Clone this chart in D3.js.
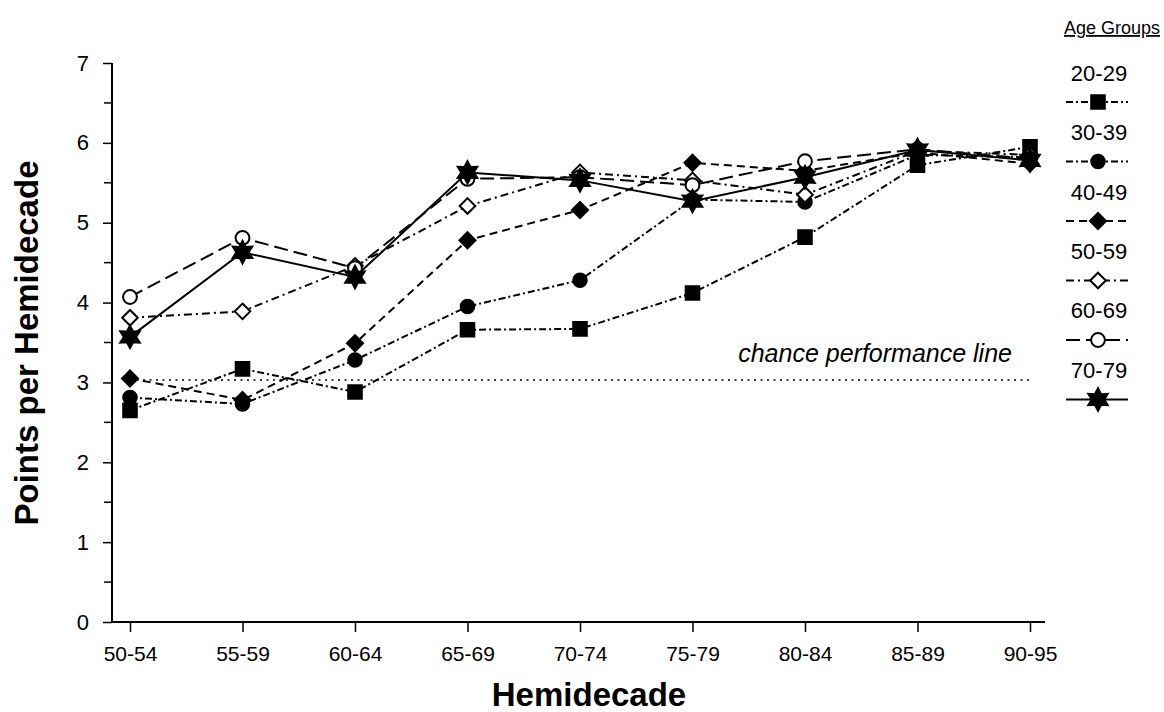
<!DOCTYPE html>
<html><head><meta charset="utf-8">
<script src="https://cdn.jsdelivr.net/npm/d3@7"></script>
<style>body{margin:0;background:#fff}svg{display:block}text{font-family:"Liberation Sans",Arial,sans-serif;fill:#000}</style>
</head><body>
<script>
const categories = ["50-54","55-59","60-64","65-69","70-74","75-79","80-84","85-89","90-95"];
const groups = ["20-29","30-39","40-49","50-59","60-69","70-79"];
const g2029 = [2.65,3.17,2.88,3.66,3.67,4.12,4.82,5.72,5.95];
const g3039 = [2.81,2.73,3.28,3.95,4.28,5.29,5.26,5.85,5.82];
const g4049 = [3.05,2.78,3.49,4.78,5.16,5.75,5.65,5.88,5.74];
const g5059 = [3.81,3.89,4.46,5.21,5.63,5.53,5.35,5.90,5.85];
const g6069 = [4.07,4.81,4.43,5.55,5.57,5.47,5.77,5.92,5.80];
const g7079 = [3.57,4.63,4.32,5.63,5.53,5.27,5.57,5.91,5.78];
const chance = 3.03;
const yTicks = [0,1,2,3,4,5,6,7];
const yMinor = [0.5,1.5,2.5,3.5,4.5,5.5,6.5];

const W=1164,H=712;
const svg=d3.select("body").append("svg").attr("width",W).attr("height",H);
const x=d3.scalePoint().domain(categories).range([130,1030]);
const y=d3.scaleLinear().domain([0,7]).range([622,63]);

const star6={draw(ctx,size){const r=Math.sqrt(size/2.2);const ri=r*0.55;for(let i=0;i<12;i++){const a=-Math.PI/2+i*Math.PI/6;const rr=i%2?ri:r;const px=rr*Math.cos(a),py=rr*Math.sin(a);i?ctx.lineTo(px,py):ctx.moveTo(px,py);}ctx.closePath();}};

const styles=[
 {data:g2029,dash:"7,3,2,3",sym:d3.symbolSquare,size:185,fill:"#000"},
 {data:g3039,dash:"7,3,2,3",sym:d3.symbolCircle,size:145,fill:"#000"},
 {data:g4049,dash:"8,5",sym:d3.symbolDiamond2,size:165,fill:"#000"},
 {data:g5059,dash:"8,4,2,4",sym:d3.symbolDiamond2,size:155,fill:"#fff"},
 {data:g6069,dash:"14,6",sym:d3.symbolCircle,size:150,fill:"#fff"},
 {data:g7079,dash:null,sym:star6,size:280,fill:"#000"}
];

// axes
const yAxis=d3.axisLeft(y).tickValues(yTicks).tickSize(9).tickPadding(14).tickFormat(d3.format("d"));
const ya=svg.append("g").attr("transform","translate(112,0)").call(yAxis);
ya.select(".domain").attr("stroke-width",2).attr("d","M0,63V622");
ya.selectAll(".tick line").attr("stroke-width",1.5);
ya.selectAll("text").attr("font-size",22).attr("font-family","Liberation Sans, Arial, sans-serif");
svg.append("g").selectAll("line").data(yMinor).join("line")
 .attr("x1",104).attr("x2",112).attr("y1",d=>y(d)).attr("y2",d=>y(d)).attr("stroke","#000").attr("stroke-width",1.5);

const xAxis=d3.axisBottom(x).tickSize(10).tickPadding(14);
const xa=svg.append("g").attr("transform","translate(0,622)").call(xAxis);
xa.select(".domain").attr("stroke-width",2).attr("d","M112,0H1045");
xa.selectAll(".tick line").attr("stroke-width",1.5);
xa.selectAll("text").attr("font-size",21).attr("font-family","Liberation Sans, Arial, sans-serif");

svg.append("text").attr("transform","translate(38,343) rotate(-90)").attr("text-anchor","middle")
 .attr("font-size",33).attr("font-weight","bold").text("Points per Hemidecade");
svg.append("text").attr("x",589).attr("y",706).attr("text-anchor","middle")
 .attr("font-size",33).attr("font-weight","bold").text("Hemidecade");

// chance line
svg.append("line").attr("x1",x(categories[0])).attr("x2",x(categories[categories.length-1]))
 .attr("y1",y(chance)).attr("y2",y(chance)).attr("stroke","#000").attr("stroke-width",1.5).attr("stroke-dasharray","2,4.5");
svg.append("text").attr("x",1012).attr("y",362).attr("text-anchor","end").attr("font-size",25).attr("font-style","italic").text("chance performance line");

// series lines
const line=d3.line().x((d,i)=>x(categories[i])).y(d=>y(d));
styles.forEach(s=>{
 svg.append("path").attr("d",line(s.data)).attr("fill","none").attr("stroke","#000").attr("stroke-width",2)
  .attr("stroke-dasharray",s.dash);
});
styles.forEach(s=>{
 svg.append("g").selectAll("path").data(s.data).join("path")
  .attr("transform",(d,i)=>`translate(${x(categories[i])},${y(d)})`)
  .attr("d",d3.symbol(s.sym,s.size)).attr("fill",s.fill).attr("stroke","#000").attr("stroke-width",2);
});

// legend
svg.append("text").attr("x",1160).attr("y",34).attr("text-anchor","end").attr("font-size",18).attr("text-decoration","underline").text("Age Groups");
const lg=svg.append("g");
groups.forEach((gname,i)=>{
 const s=styles[i];
 const yl=73+i*59.3, ys=102+i*59.5;
 lg.append("text").attr("x",1099).attr("y",yl+8).attr("text-anchor","middle").attr("font-size",22).text(gname);
 lg.append("line").attr("x1",1066).attr("x2",1128).attr("y1",ys).attr("y2",ys).attr("stroke","#000").attr("stroke-width",2).attr("stroke-dasharray",s.dash);
 lg.append("path").attr("transform",`translate(1098,${ys})`).attr("d",d3.symbol(s.sym,s.size)).attr("fill",s.fill).attr("stroke","#000").attr("stroke-width",2);
});
</script>
</body></html>
